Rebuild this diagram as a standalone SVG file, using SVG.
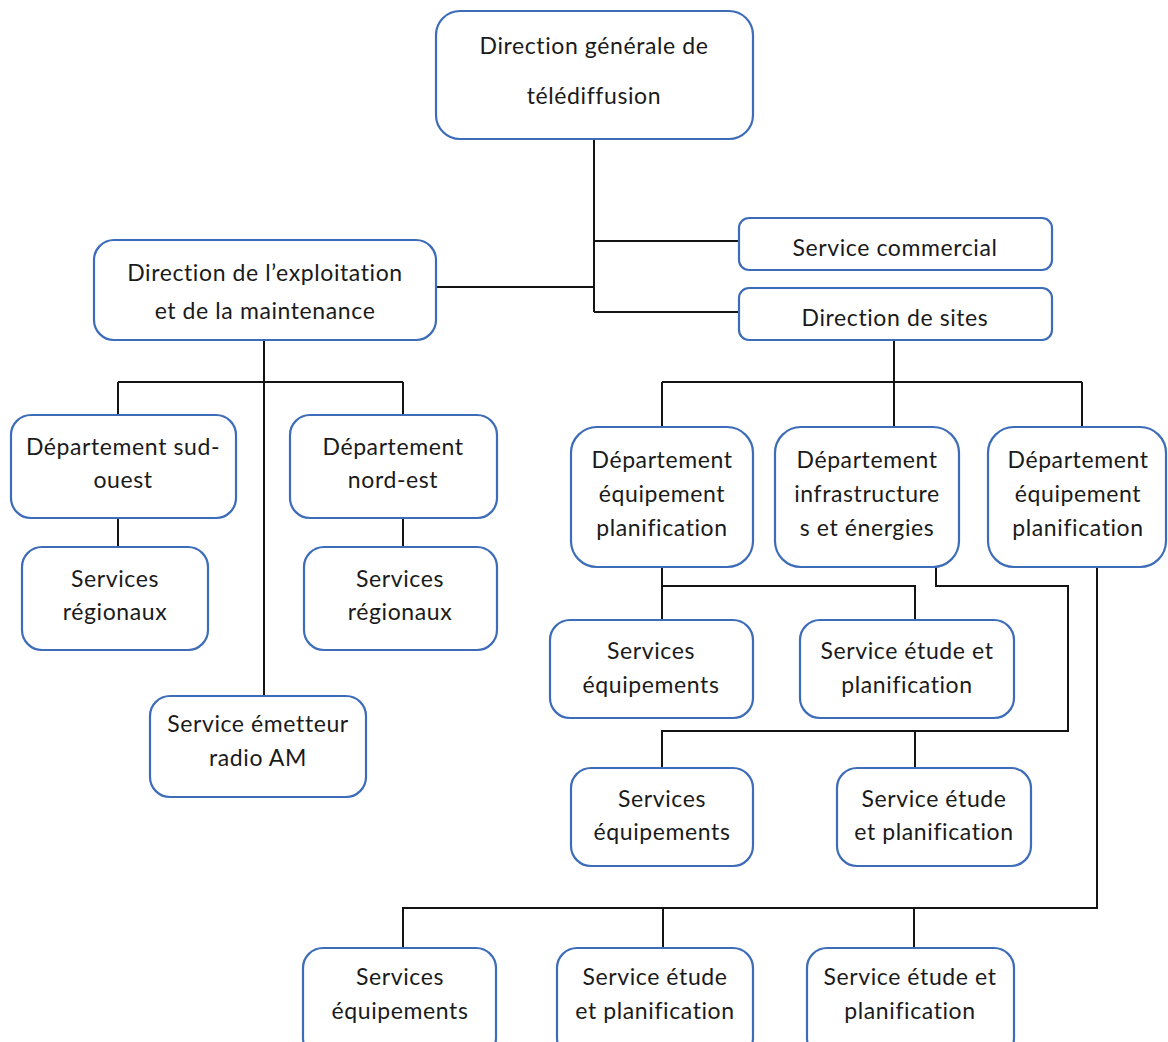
<svg xmlns="http://www.w3.org/2000/svg" width="1168" height="1042" viewBox="0 0 1168 1042">
<style>
.box{fill:#ffffff;stroke:#3d6cb9;stroke-width:2.2}
.t{font-family:Lato,"Open Sans","Liberation Sans",sans-serif;font-size:23px;letter-spacing:0.6px;fill:#1a1a1a;text-anchor:middle}
.c{fill:none;stroke:#141414;stroke-width:2}
</style>
<rect width="1168" height="1042" fill="#ffffff"/>
<g id="connectors">
<path class="c" d="M594,139 V312 M594,241 H739 M594,312 H739 M436,287 H594"/>
<path class="c" d="M264,340 V696 M118,382 H403 M118,382 V415 M403,382 V415 M118,518 V547 M403,518 V547"/>
<path class="c" d="M894,340 V427 M662,382 H1082 M662,382 V427 M1082,382 V427"/>
<path class="c" d="M662,567 V620 M662,586 H915 V620"/>
<path class="c" d="M936,567 V586 H1068 V731 H662 V768 M915,731 V768"/>
<path class="c" d="M1097,567 V908 H403 V948 M663,908 V948 M914,908 V948"/>
</g>
<g id="n1"><rect class="box" x="436" y="11" width="317" height="128" rx="24"/><text class="t" x="594" y="54">Direction générale de</text><text class="t" x="594" y="104">télédiffusion</text></g>
<g id="n2"><rect class="box" x="739" y="218" width="313" height="52" rx="10"/><text class="t" x="895" y="256">Service commercial</text></g>
<g id="n3"><rect class="box" x="739" y="288" width="313" height="52" rx="10"/><text class="t" x="895" y="326">Direction de sites</text></g>
<g id="n4"><rect class="box" x="94" y="240" width="342" height="100" rx="20"/><text class="t" x="265" y="281">Direction de l’exploitation</text><text class="t" x="265" y="319">et de la maintenance</text></g>
<g id="n5"><rect class="box" x="11" y="415" width="225" height="103" rx="20"/><text class="t" x="123" y="455">Département sud-</text><text class="t" x="123" y="488">ouest</text></g>
<g id="n6"><rect class="box" x="290" y="415" width="207" height="103" rx="20"/><text class="t" x="393" y="455">Département</text><text class="t" x="393" y="488">nord-est</text></g>
<g id="n7"><rect class="box" x="22" y="547" width="186" height="103" rx="20"/><text class="t" x="115" y="587">Services</text><text class="t" x="115" y="620">régionaux</text></g>
<g id="n8"><rect class="box" x="304" y="547" width="193" height="103" rx="20"/><text class="t" x="400" y="587">Services</text><text class="t" x="400" y="620">régionaux</text></g>
<g id="n9"><rect class="box" x="150" y="696" width="216" height="101" rx="20"/><text class="t" x="258" y="732">Service émetteur</text><text class="t" x="258" y="766">radio AM</text></g>
<g id="n10"><rect class="box" x="571" y="427" width="182" height="140" rx="26"/><text class="t" x="662" y="468">Département</text><text class="t" x="662" y="502">équipement</text><text class="t" x="662" y="536">planification</text></g>
<g id="n11"><rect class="box" x="775" y="427" width="184" height="140" rx="26"/><text class="t" x="867" y="468">Département</text><text class="t" x="867" y="502">infrastructure</text><text class="t" x="867" y="536">s et énergies</text></g>
<g id="n12"><rect class="box" x="988" y="427" width="178" height="140" rx="26"/><text class="t" x="1078" y="468">Département</text><text class="t" x="1078" y="502">équipement</text><text class="t" x="1078" y="536">planification</text></g>
<g id="n13"><rect class="box" x="550" y="620" width="203" height="98" rx="20"/><text class="t" x="651" y="659">Services</text><text class="t" x="651" y="693">équipements</text></g>
<g id="n14"><rect class="box" x="800" y="620" width="214" height="98" rx="20"/><text class="t" x="907" y="659">Service étude et</text><text class="t" x="907" y="693">planification</text></g>
<g id="n15"><rect class="box" x="571" y="768" width="182" height="98" rx="20"/><text class="t" x="662" y="807">Services</text><text class="t" x="662" y="840">équipements</text></g>
<g id="n16"><rect class="box" x="837" y="768" width="194" height="98" rx="20"/><text class="t" x="934" y="807">Service étude</text><text class="t" x="934" y="840">et planification</text></g>
<g id="n17"><rect class="box" x="303" y="948" width="193" height="110" rx="20"/><text class="t" x="400" y="985">Services</text><text class="t" x="400" y="1019">équipements</text></g>
<g id="n18"><rect class="box" x="557" y="948" width="196" height="110" rx="20"/><text class="t" x="655" y="985">Service étude</text><text class="t" x="655" y="1019">et planification</text></g>
<g id="n19"><rect class="box" x="807" y="948" width="207" height="110" rx="20"/><text class="t" x="910" y="985">Service étude et</text><text class="t" x="910" y="1019">planification</text></g>
</svg>
